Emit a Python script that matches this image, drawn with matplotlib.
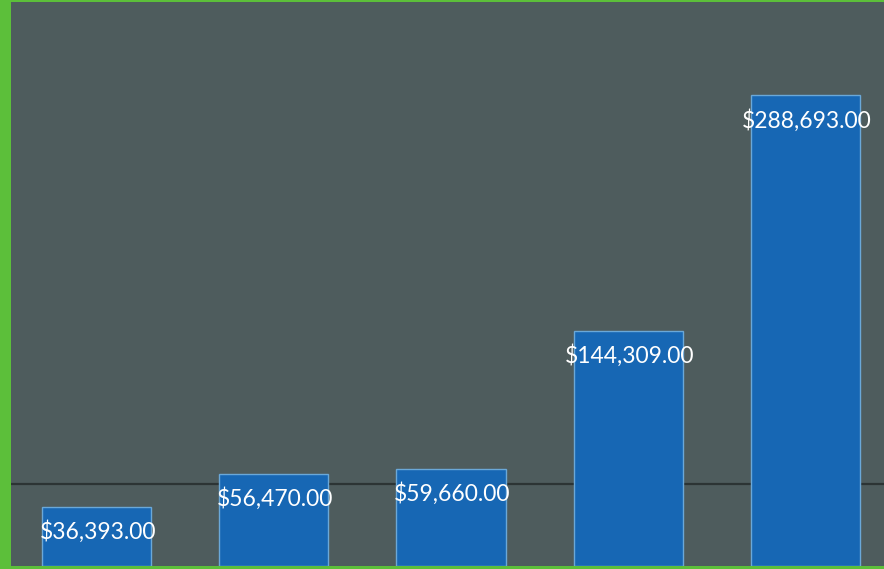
import matplotlib
matplotlib.use('Agg')
import matplotlib.pyplot as plt
import numpy as np

# values
categories = ['A', 'B', 'C', 'D', 'E']
amounts = [36393.00, 56470.00, 59660.00, 144309.00, 288693.00]
labels = ['$36,393.00', '$56,470.00', '$59,660.00', '$144,309.00', '$288,693.00']

plt.rcParams['font.family'] = ['Lato', 'DejaVu Sans']

fig = plt.figure(figsize=(8.84, 5.69), dpi=100)
fig.patch.set_facecolor('#5cbf3a')

W, H = 884.0, 569.0
ax = fig.add_axes([11 / W, 3 / H, (W - 11) / W, (H - 5) / H])
ax.set_facecolor('#4e5c5d')

x = np.arange(len(categories))
ax.bar(x, amounts, width=0.616, color='#1767b4', edgecolor='#6aa8d8',
       linewidth=1.0, zorder=3)

# faint dark line across the background (gridline in the scan)
ax.axhline(50000, color='#2c3434', linewidth=1.6, zorder=2)

for xi, v, lab in zip(x, amounts, labels):
    ax.annotate(lab, (xi, v), xytext=(1, -18), textcoords='offset points',
                ha='center', va='center', color='white', fontsize=16.5,
                zorder=5)

ax.set_xlim(-0.483, 4.444)
ax.set_ylim(0, 345800)
ax.set_xticks([])
ax.set_yticks([])
for s in ax.spines.values():
    s.set_visible(False)

plt.savefig('out.png', dpi=100, facecolor=fig.get_facecolor())
